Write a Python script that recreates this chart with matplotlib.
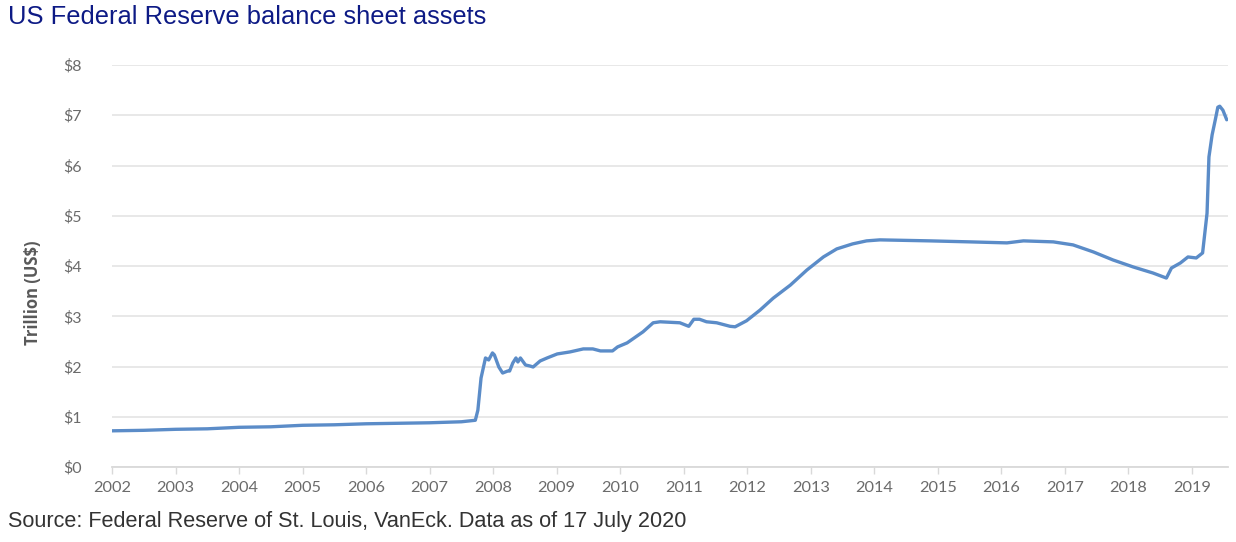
import matplotlib
matplotlib.use("Agg")
import matplotlib.pyplot as plt

# x positions are in the chart's own (labelled) year axis
years = [2002.0, 2002.5, 2003.0, 2003.5, 2004.0, 2004.5, 2005.0, 2005.5, 2006.0, 2006.5, 2007.0, 2007.5, 2007.72,
         2007.76, 2007.81, 2007.88, 2007.93, 2007.99, 2008.02, 2008.09, 2008.15, 2008.23, 2008.26, 2008.31, 2008.36,
         2008.39, 2008.43, 2008.51, 2008.58, 2008.63, 2008.74, 2008.85, 2009.01, 2009.21, 2009.42, 2009.57, 2009.69,
         2009.88, 2009.96, 2010.11, 2010.36, 2010.52, 2010.63, 2010.94, 2011.08, 2011.16, 2011.25, 2011.36, 2011.52,
         2011.73, 2011.81, 2011.99, 2012.2, 2012.41, 2012.68, 2012.94, 2013.2, 2013.41, 2013.66, 2013.88, 2014.09,
         2014.88, 2015.51, 2016.09, 2016.35, 2016.82, 2017.13, 2017.45, 2017.76, 2018.08, 2018.39, 2018.6, 2018.68,
         2018.82, 2018.94, 2019.07, 2019.17, 2019.24, 2019.27, 2019.32, 2019.37, 2019.41, 2019.44, 2019.49, 2019.55]
assets = [0.72, 0.73, 0.75, 0.76, 0.79, 0.80, 0.83, 0.84, 0.86, 0.87, 0.88, 0.90, 0.93,
          1.13, 1.77, 2.17, 2.13, 2.27, 2.23, 1.99, 1.87, 1.91, 1.91, 2.07, 2.17,
          2.09, 2.17, 2.03, 2.01, 1.99, 2.11, 2.17, 2.25, 2.29, 2.35, 2.35, 2.31,
          2.31, 2.39, 2.47, 2.69, 2.87, 2.89, 2.87, 2.80, 2.94, 2.94, 2.89, 2.87,
          2.80, 2.79, 2.91, 3.12, 3.36, 3.62, 3.92, 4.18, 4.34, 4.44, 4.50, 4.52,
          4.50, 4.48, 4.46, 4.50, 4.48, 4.42, 4.28, 4.12, 3.98, 3.86, 3.76, 3.96,
          4.06, 4.18, 4.16, 4.26, 5.05, 6.17, 6.61, 6.91, 7.16, 7.18, 7.10, 6.91]
ytick_vals = [0, 1, 2, 3, 4, 5, 6, 7, 8]
ytick_labels = ["$0", "$1", "$2", "$3", "$4", "$5", "$6", "$7", "$8"]
xtick_vals = list(range(2002, 2020))

W, H = 1236, 542
fig = plt.figure(figsize=(W / 100, H / 100), dpi=100)
ax = fig.add_axes([112 / W, 1 - 467 / H, (1228 - 112) / W, (467 - 65) / H])

ax.plot(years, assets, color="#5b8cc8", lw=2.4, solid_joinstyle="round", solid_capstyle="round", zorder=3)

ax.set_xlim(2002, 2019.57)
ax.set_ylim(0, 8)
ax.set_yticks(ytick_vals)
ax.set_yticklabels(ytick_labels, fontfamily="Lato", fontsize=11.5, color="#6b6b6b")
ax.set_xticks(xtick_vals)
ax.set_xticklabels([str(y) for y in xtick_vals], fontfamily="Lato", fontsize=11.8, color="#6b6b6b")
ax.tick_params(axis="y", length=0, pad=22)
ax.tick_params(axis="x", length=5, width=1, color="#d9d9d9", pad=5)
ax.grid(axis="y", color="#e6e6e6", lw=1.3)
ax.set_axisbelow(True)
for s in ["top", "right", "left"]:
    ax.spines[s].set_visible(False)
ax.spines["bottom"].set_color("#d9d9d9")
ax.spines["bottom"].set_linewidth(1.3)

fig.text(33 / W, 1 - 293 / H, "Trillion (US$)", rotation=90, ha="center", va="center",
         fontfamily="Open Sans", fontweight="bold", fontsize=12, color="#595959")
fig.text(8 / W, 1 - 17 / H, "US Federal Reserve balance sheet assets", ha="left", va="center",
         fontfamily="Liberation Sans", fontsize=18.4, color="#0d1a85")
fig.text(8 / W, 1 - 522 / H, "Source: Federal Reserve of St. Louis, VanEck. Data as of 17 July 2020",
         ha="left", va="center", fontfamily="Liberation Sans", fontsize=15.6, color="#333333")

fig.savefig("out.png", dpi=100)
